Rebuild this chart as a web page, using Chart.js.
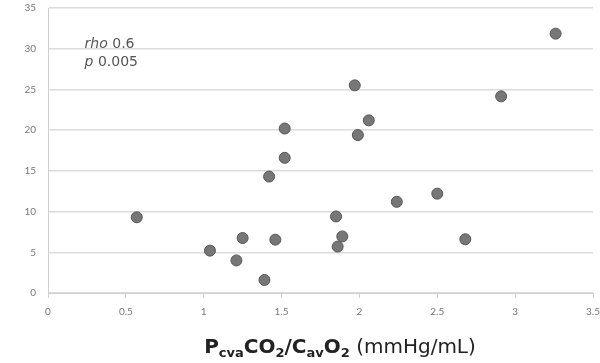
<!DOCTYPE html>
<html>
<head>
<meta charset="utf-8">
<script src="https://cdn.jsdelivr.net/npm/chart.js@4.4.1/dist/chart.umd.min.js"></script>
<style>
    html, body { margin: 0; padding: 0; background: #fff; }
    #wrap { width: 600px; height: 363px; }
</style>
</head>
<body>
<div id="wrap"><canvas id="scatterChart" width="600" height="363"></canvas></div>
<script>
// PcvaCO2/CavO2 ratio (x) against the y value
const ratioX = [0.57, 1.04, 1.21, 1.25, 1.39, 1.42, 1.46, 1.52, 1.52, 1.85,
                1.86, 1.89, 1.97, 1.99, 2.06, 2.24, 2.50, 2.68, 2.91, 3.26];
const valueY = [9.3, 5.2, 4.0, 6.75, 1.6, 14.3, 6.55, 16.6, 20.2, 9.4,
                5.7, 6.95, 25.5, 19.4, 21.2, 11.2, 12.2, 6.6, 24.15, 31.85];
const xTicks = { min: 0, max: 3.5, step: 0.5 };
const yTicks = { min: 0, max: 35, step: 5 };
const statLines = [['rho', ' 0.6'], ['p', ' 0.005']];

const points = ratioX.map((x, i) => ({ x: x, y: valueY[i] }));

const FONT = 'Lato, "DejaVu Sans", sans-serif';
const WIDE = '"DejaVu Sans", sans-serif';

// rho / p note, placed in data units
const notePlugin = {
    id: 'note',
    afterDatasetsDraw(chart) {
        const { ctx, scales } = chart;
        const x0 = scales.x.getPixelForValue(0.235);
        let y = scales.y.getPixelForValue(30.1);
        ctx.save();
        ctx.fillStyle = '#555';
        ctx.textBaseline = 'alphabetic';
        statLines.forEach(([sym, rest]) => {
            ctx.font = 'italic 14px ' + WIDE;
            ctx.fillText(sym, x0, y);
            const w = ctx.measureText(sym).width;
            ctx.font = '14px ' + WIDE;
            ctx.fillText(rest, x0 + w, y);
            y += 18;
        });
        ctx.restore();
    }
};

// x axis title with subscripts
const titlePlugin = {
    id: 'xTitle',
    afterDraw(chart) {
        const { ctx, chartArea } = chart;
        const parts = [
            { t: 'P', sub: false, bold: true },
            { t: 'cva', sub: true, bold: true },
            { t: 'CO', sub: false, bold: true },
            { t: '2', sub: true, bold: true },
            { t: '/C', sub: false, bold: true },
            { t: 'av', sub: true, bold: true },
            { t: 'O', sub: false, bold: true },
            { t: '2', sub: true, bold: true },
            { t: ' (mmHg/mL)', sub: false, bold: false }
        ];
        const fontFor = p => (p.bold ? 'bold ' : '') + (p.sub ? '13px ' : '20px ') + WIDE;
        ctx.save();
        let total = 0;
        parts.forEach(p => { ctx.font = fontFor(p); total += ctx.measureText(p.t).width; });
        let x = 340 - total / 2;
        const base = chartArea.bottom + 60;
        ctx.fillStyle = '#222';
        ctx.textBaseline = 'alphabetic';
        parts.forEach(p => {
            ctx.font = fontFor(p);
            ctx.fillText(p.t, x, p.sub ? base + 4 : base);
            x += ctx.measureText(p.t).width;
        });
        ctx.restore();
    }
};

const ctx = document.getElementById('scatterChart').getContext('2d');
const scatterChart = new Chart(ctx, {
    type: 'scatter',
    data: {
        datasets: [{
            data: points,
            backgroundColor: '#777777',
            borderColor: '#555555',
            borderWidth: 1,
            pointRadius: 5.5,
            pointHoverRadius: 5.5
        }]
    },
    options: {
        responsive: false,
        animation: false,
        layout: { padding: { top: 8, right: 7, left: 0, bottom: 0 } },
        plugins: {
            legend: { display: false },
            tooltip: { enabled: false }
        },
        scales: {
            x: {
                type: 'linear',
                min: xTicks.min,
                max: xTicks.max,
                afterFit: (axis) => {
                    axis.height = 70;
                    axis.paddingLeft = 0;
                    axis.paddingRight = 0;
                },
                border: { color: '#cfcfcf', width: 1 },
                grid: { drawOnChartArea: false, drawTicks: true, tickLength: 5, color: '#cfcfcf' },
                ticks: {
                    stepSize: xTicks.step,
                    padding: 8,
                    color: '#777',
                    font: { family: FONT, size: 10 },
                    maxRotation: 0,
                    callback: (v) => String(v)
                }
            },
            y: {
                min: yTicks.min,
                max: yTicks.max,
                afterFit: (axis) => {
                    axis.width = 48;
                    axis.paddingTop = 0;
                    axis.paddingBottom = 0;
                },
                border: { color: '#cfcfcf', width: 1 },
                grid: { color: '#dcdcdc', lineWidth: 1.5, drawTicks: false },
                ticks: {
                    stepSize: yTicks.step,
                    padding: 12,
                    color: '#777',
                    font: { family: FONT, size: 10 }
                }
            }
        }
    },
    plugins: [notePlugin, titlePlugin]
});
</script>
</body>
</html>
